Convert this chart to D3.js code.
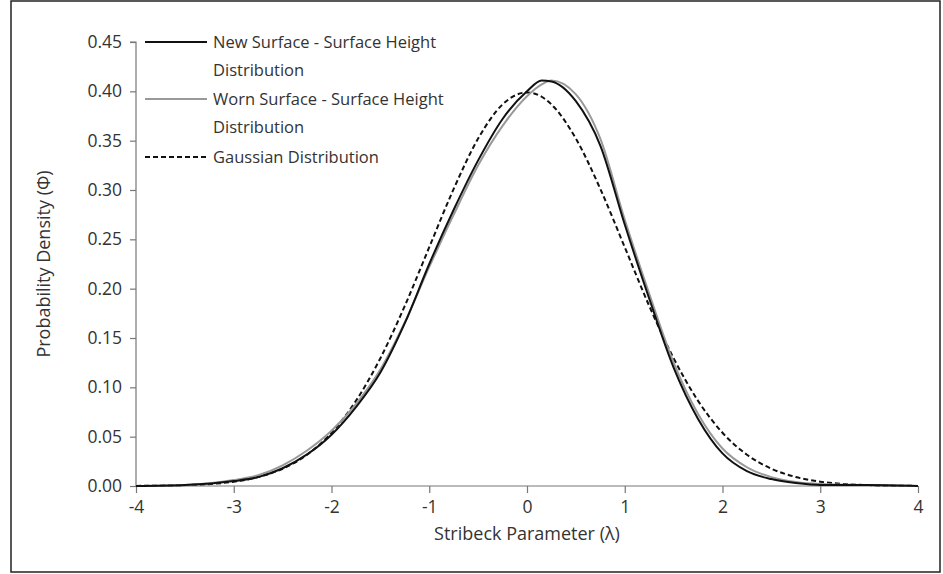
<!DOCTYPE html>
<html><head><meta charset="utf-8">
<script src="https://cdn.jsdelivr.net/npm/d3@7"></script>
<style>body{margin:0;background:#fff}text{font-family:"Open Sans",sans-serif;fill:#333}</style>
</head><body>
<script>
const xVals = [-4,-3.5,-3,-2.75,-2.5,-2.25,-2,-1.75,-1.5,-1.25,-1,-0.75,-0.5,-0.25,0,0.15,0.25,0.5,0.75,1,1.25,1.5,1.75,2,2.25,2.5,2.75,3,3.5,4];
const newSurf = [0,0.001,0.005,0.009,0.018,0.032,0.052,0.08,0.115,0.165,0.225,0.28,0.33,0.372,0.400,0.411,0.410,0.39,0.345,0.265,0.19,0.12,0.068,0.033,0.015,0.007,0.003,0.001,0.001,0];
const wornSurf = [0,0.001,0.006,0.011,0.021,0.036,0.056,0.083,0.118,0.166,0.222,0.275,0.325,0.365,0.395,0.407,0.411,0.397,0.352,0.27,0.195,0.125,0.073,0.038,0.019,0.009,0.004,0.002,0.001,0];
const gauss = [0.0001,0.0009,0.0044,0.0091,0.0175,0.0317,0.054,0.0863,0.1295,0.1826,0.242,0.3011,0.3521,0.3867,0.3989,0.3945,0.3867,0.3521,0.3011,0.242,0.1826,0.1295,0.0863,0.054,0.0317,0.0175,0.0091,0.0044,0.0009,0.0001];
const xTicks = [-4,-3,-2,-1,0,1,2,3,4];
const yTicks = d3.range(0,0.451,0.05);

const w = 943, h = 574;
const svg = d3.select("body").append("svg").attr("width", w).attr("height", h);
svg.append("rect").attr("x",11).attr("y",1).attr("width",929).attr("height",571)
  .attr("fill","none").attr("stroke","#222").attr("stroke-width",1.5);

const x = d3.scaleLinear().domain([-4,4]).range([136,918]);
const y = d3.scaleLinear().domain([0,0.45]).range([486,42]);

const xAxis = svg.append("g").attr("transform","translate(0,486)")
  .call(d3.axisBottom(x).tickValues(xTicks).tickSize(7).tickPadding(8).tickFormat(d=>String(d)));
const yAxis = svg.append("g").attr("transform","translate(136,0)")
  .call(d3.axisLeft(y).tickValues(yTicks).tickSize(6).tickPadding(8).tickFormat(d3.format(".2f")));
[xAxis,yAxis].forEach(a=>{
  a.selectAll("path,line").attr("stroke","#777").attr("stroke-width",1.2);
  a.selectAll("text").attr("font-size",17.5).style("fill","#333");
});
xAxis.select(".domain").attr("d","M136,0H918");
yAxis.select(".domain").attr("d","M-6,42H0V486");

svg.append("text").attr("x",527).attr("y",540).attr("text-anchor","middle").attr("font-size",18).text("Stribeck Parameter (λ)");
svg.append("text").attr("transform","translate(50,264) rotate(-90)").attr("text-anchor","middle").attr("font-size",18).text("Probability Density (Φ)");

const line = vals => d3.line().curve(d3.curveMonotoneX).x((d,i)=>x(xVals[i])).y(d=>y(d))(vals);
const series = [
  {v:gauss, c:"#111", dash:"5,3", label:["Gaussian Distribution"]},
  {v:wornSurf, c:"#999", dash:null, label:["Worn Surface - Surface Height","Distribution"]},
  {v:newSurf, c:"#111", dash:null, label:["New Surface - Surface Height","Distribution"]}
];
series.forEach(s=>{
  svg.append("path").attr("d",line(s.v)).attr("fill","none").attr("stroke",s.c)
    .attr("stroke-width",2).attr("stroke-dasharray",s.dash);
});

const legend = [series[2],series[1],series[0]];
const ly = [42,99,157];
legend.forEach((s,i)=>{
  svg.append("line").attr("x1",145).attr("x2",207).attr("y1",ly[i]).attr("y2",ly[i])
    .attr("stroke",s.c).attr("stroke-width",2).attr("stroke-dasharray",s.dash);
  s.label.forEach((t,j)=>{
    svg.append("text").attr("x",213).attr("y",ly[i]+6+j*28).attr("font-size",16.5).text(t);
  });
});
</script>
</body></html>
